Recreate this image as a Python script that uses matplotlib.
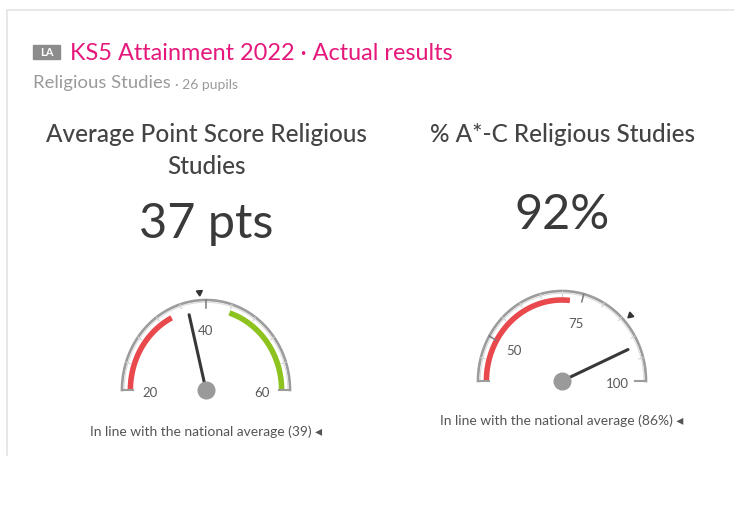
import numpy as np
import matplotlib.pyplot as plt

plt.rcParams['font.family'] = ['Lato', 'DejaVu Sans']

# gauge data
gauge_titles = [['Average Point Score Religious', 'Studies'],
                ['% A*-C Religious Studies']]
gauge_values = [37, 92]
value_labels = ['37 pts', '92%']
gauge_min = [20, 40]
gauge_max = [60, 100]
national_avg = [39, 86]
major_ticks = [[20, 40, 60], [50, 75, 100]]
minor_step = [4, 5]
red_bands = [(20, 34), (40, 72)]
green_bands = [(44, 60), None]
footers = ['In line with the national average (39) \u25C2',
           'In line with the national average (86%) \u25C2']

W, H = 734, 508
centers = [(206, 390), (562, 381)]
RX, RY = 84, 90
title_y = [135, 135]
value_y = [224, 215]
footer_y = [432, 421]

fig = plt.figure(figsize=(W / 100, H / 100), dpi=100)
bg = fig.add_axes([0, 0, 1, 1])
bg.set_xlim(0, W)
bg.set_ylim(H, 0)
bg.axis('off')

# card border
bg.plot([7, 7, W], [455, 10, 10], color='#e4e4e4', lw=1.2)

# header
bg.add_patch(plt.Rectangle((33, 45), 27, 14, color='#8c8c8c'))
bg.text(46.5, 52.5, 'LA', color='white', fontsize=8, fontweight='bold',
        ha='center', va='center')
bg.text(70, 54, 'KS5 Attainment 2022 \u00b7 Actual results', color='#e5197c',
        fontsize=16.9, va='center')
sub = bg.text(33, 88, 'Religious Studies', color='#9a9a9a', fontsize=13.3,
              va='baseline')
bg.annotate('\u00b7 26 pupils', xy=(1, 0), xycoords=sub, xytext=(3, 0),
            textcoords='offset points', color='#9a9a9a', fontsize=10,
            va='bottom')


def ang(v, lo, hi):
    return np.pi * (1 - (v - lo) / (hi - lo))


def arc(ax, lo, hi, v0, v1, r, **kw):
    t = np.linspace(ang(v0, lo, hi), ang(v1, lo, hi), 100)
    ax.plot(r * np.cos(t), r * np.sin(t), **kw)


for i, (cx, cy) in enumerate(centers):
    # title + big value
    for k, line in enumerate(gauge_titles[i]):
        bg.text(cx, title_y[i] + 31 * k, line, color='#444444', fontsize=17.5,
                fontweight='medium', ha='center', va='center')
    bg.text(cx, value_y[i], value_labels[i], color='#3a3a3a', fontsize=35,
            ha='center', va='center')
    bg.text(cx, footer_y[i], footers[i], color='#555555',
            fontsize=10, ha='center', va='center')

    x0, x1, y0, y1 = -1.25, 1.25, -0.3, 1.25
    ax = fig.add_axes([(cx + x0 * RX) / W, (H - (cy - y0 * RY)) / H,
                       (x1 - x0) * RX / W, (y1 - y0) * RY / H])
    ax.set_xlim(x0, x1)
    ax.set_ylim(y0, y1)
    ax.axis('off')

    lo, hi = gauge_min[i], gauge_max[i]

    # colored bands
    arc(ax, lo, hi, *red_bands[i], 0.9, color='#e9484c', lw=4,
        solid_capstyle='butt')
    if green_bands[i]:
        arc(ax, lo, hi, *green_bands[i], 0.9, color='#8dc21f', lw=4,
            solid_capstyle='butt')

    # outer rim with end caps
    arc(ax, lo, hi, lo, hi, 1.0, color='#9c9c9c', lw=1.9)
    arc(ax, lo, hi, lo, hi, 0.975, color='#dddddd', lw=0.8)
    ax.plot([-1.0, -0.87], [0, 0], color='#9c9c9c', lw=1.5)
    ax.plot([1.0, 0.87], [0, 0], color='#9c9c9c', lw=1.5)

    # ticks
    for v in np.arange(lo + minor_step[i], hi, minor_step[i]):
        if v in major_ticks[i]:
            continue
        t = ang(v, lo, hi)
        ax.plot([np.cos(t), 0.95 * np.cos(t)], [np.sin(t), 0.95 * np.sin(t)],
                color='#d2d2d2', lw=0.8)
    for v in major_ticks[i]:
        t = ang(v, lo, hi)
        if v not in (lo, hi):
            ax.plot([np.cos(t), 0.91 * np.cos(t)],
                    [np.sin(t), 0.91 * np.sin(t)], color='#7a7a7a', lw=1.1)
        ax.text(0.66 * np.cos(t), 0.66 * np.sin(t) - (0.03 if v in (lo, hi) else 0),
                str(v), color='#5a5a5a', fontsize=9.5, ha='center', va='center')

    # national average marker
    t = ang(national_avg[i], lo, hi)
    ax.plot(1.09 * np.cos(t), 1.09 * np.sin(t),
            marker=(3, 0, np.degrees(t) + 90), markersize=5, color='#333333')

    # needle
    t = ang(gauge_values[i], lo, hi)
    ax.plot([0, 0.86 * np.cos(t)], [0, 0.86 * np.sin(t)], color='#383838',
            lw=2.2, solid_capstyle='round')
    ax.plot(0, 0, 'o', markersize=12, color='#9a9a9a')

fig.savefig('out.png', dpi=100, facecolor='white')
